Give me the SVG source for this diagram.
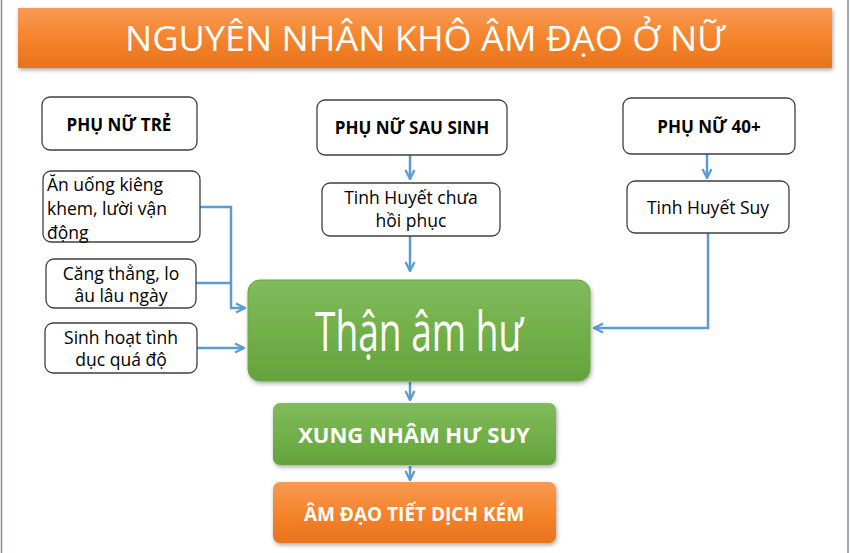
<svg xmlns="http://www.w3.org/2000/svg" width="850" height="553" viewBox="0 0 850 553">
<defs>
<linearGradient id="gOr" x1="0" y1="0" x2="0" y2="1"><stop offset="0" stop-color="#f79a55"/><stop offset="0.5" stop-color="#f5842c"/><stop offset="1" stop-color="#e8731c"/></linearGradient>
<linearGradient id="gGr" x1="0" y1="0" x2="0" y2="1"><stop offset="0" stop-color="#80bb5c"/><stop offset="0.5" stop-color="#72b04a"/><stop offset="1" stop-color="#64a23c"/></linearGradient>
<filter id="sh" x="-5%" y="-10%" width="110%" height="130%"><feDropShadow dx="1" dy="2" stdDeviation="2" flood-color="#000" flood-opacity="0.35"/></filter>
<marker id="ar" viewBox="0 0 10 10" refX="9" refY="5" markerWidth="4.5" markerHeight="4.5" orient="auto" markerUnits="strokeWidth"><path d="M1,1 L9,5 L1,9" fill="none" stroke="#5b9bd5" stroke-width="2"/></marker>
</defs>
<style>
.bx{fill:#fff;stroke:#3f3f3f;stroke-width:1.3}
.hd{font-family:"Open Sans","Liberation Sans",sans-serif;font-weight:bold;font-size:17px;fill:#000;text-anchor:middle}
.tx{font-family:"Open Sans","Liberation Sans",sans-serif;font-size:17.5px;fill:#000}
.c{text-anchor:middle}
.wt{font-family:"Open Sans","Liberation Sans",sans-serif;fill:#fff;text-anchor:middle}
.ln{fill:none;stroke:#5b9bd5;stroke-width:2.5}
</style>
<rect width="850" height="553" fill="#fff"/>
<line x1="1.5" y1="0" x2="1.5" y2="553" stroke="#7f8f9a" stroke-width="1.5"/>
<line x1="848" y1="0" x2="848" y2="553" stroke="#7f8f9a" stroke-width="1.5"/>
<g id="title">
<rect x="18" y="8" width="814" height="60" fill="url(#gOr)" filter="url(#sh)"/>
<text class="wt" x="425" y="51" font-size="34" textLength="600" lengthAdjust="spacingAndGlyphs">NGUYÊN NHÂN KHÔ ÂM ĐẠO Ở NỮ</text>
</g>
<g id="connectors">
<polyline class="ln" points="200,207 231,207 231,308 245,308" marker-end="url(#ar)"/>
<line class="ln" x1="196" y1="283" x2="231" y2="283"/>
<line class="ln" x1="197" y1="348" x2="244" y2="348" marker-end="url(#ar)"/>
<line class="ln" x1="410" y1="155" x2="410" y2="179" marker-end="url(#ar)"/>
<line class="ln" x1="410" y1="236" x2="410" y2="271" marker-end="url(#ar)"/>
<line class="ln" x1="707" y1="154" x2="707" y2="178" marker-end="url(#ar)"/>
<polyline class="ln" points="708,233 708,328 594,328" marker-end="url(#ar)"/>
<line class="ln" x1="410" y1="382" x2="410" y2="400" marker-end="url(#ar)"/>
<line class="ln" x1="410" y1="466" x2="410" y2="480" marker-end="url(#ar)"/>
</g>
<g id="phu-nu-tre">
<rect class="bx" x="42" y="97" width="155" height="53" rx="8"/>
<text class="hd" x="119" y="131">PHỤ NỮ TRẺ</text>
</g>
<g id="an-uong">
<rect class="bx" x="43" y="171" width="157" height="71" rx="8"/>
<text class="tx" x="47" y="191">Ăn uống kiêng</text>
<text class="tx" x="47" y="215">khem, lười vận</text>
<text class="tx" x="47" y="239">động</text>
</g>
<g id="cang-thang">
<rect class="bx" x="46" y="259" width="150" height="49" rx="8"/>
<text class="tx c" x="121" y="280">Căng thẳng, lo</text>
<text class="tx c" x="121" y="302">âu lâu ngày</text>
</g>
<g id="sinh-hoat">
<rect class="bx" x="45" y="323" width="152" height="50" rx="8"/>
<text class="tx c" x="121" y="344">Sinh hoạt tình</text>
<text class="tx c" x="121" y="366">dục quá độ</text>
</g>
<g id="phu-nu-sau-sinh">
<rect class="bx" x="317" y="100" width="190" height="55" rx="8"/>
<text class="hd" x="412" y="134">PHỤ NỮ SAU SINH</text>
</g>
<g id="tinh-huyet-chua">
<rect class="bx" x="322" y="183" width="178" height="53" rx="8"/>
<text class="tx c" x="411" y="204">Tinh Huyết chưa</text>
<text class="tx c" x="411" y="227">hồi phục</text>
</g>
<g id="phu-nu-40">
<rect class="bx" x="623" y="98" width="172" height="56" rx="8"/>
<text class="hd" x="709" y="133">PHỤ NỮ 40+</text>
</g>
<g id="tinh-huyet-suy">
<rect class="bx" x="627" y="181" width="162" height="52" rx="8"/>
<text class="tx c" x="708" y="214">Tinh Huyết Suy</text>
</g>
<g id="than-am-hu">
<rect x="248" y="280" width="342" height="101" rx="12" fill="url(#gGr)" stroke="#6aa646" stroke-width="1" filter="url(#sh)"/>
<text class="wt" x="419" y="351" font-size="54" textLength="208" lengthAdjust="spacingAndGlyphs">Thận âm hư</text>
</g>
<g id="xung-nham">
<rect x="273" y="403" width="283" height="62" rx="7" fill="url(#gGr)" filter="url(#sh)"/>
<text class="wt" x="414" y="443" font-size="22" font-weight="bold">XUNG NHÂM HƯ SUY</text>
</g>
<g id="am-dao">
<rect x="273" y="482" width="283" height="61" rx="7" fill="url(#gOr)" filter="url(#sh)"/>
<text class="wt" x="414" y="521" font-size="19" font-weight="bold">ÂM ĐẠO TIẾT DỊCH KÉM</text>
</g>
</svg>
